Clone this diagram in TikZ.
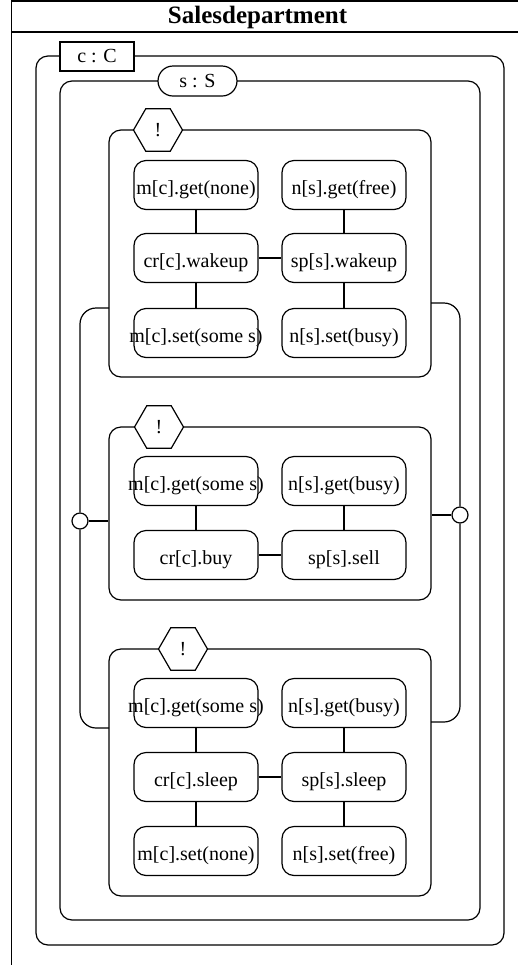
\documentclass[tikz,border=0pt]{standalone}
\usepackage{fontspec}
\setmainfont{Liberation Serif}
\usetikzlibrary{shapes.geometric}

\tikzset{
  act/.style={draw, fill=white, rounded corners=6pt, minimum width=62pt, minimum height=24.5pt, inner sep=0pt, text height=9.3pt, text depth=0pt},
  grp/.style={draw, rounded corners=6pt, minimum width=161pt, inner sep=0pt},
  bang/.style={draw, fill=white, regular polygon, regular polygon sides=6, minimum size=24.5pt, inner sep=0pt},
  port/.style={draw, fill=white, circle, minimum size=8pt, inner sep=0pt},
}
\newcommand{\txt}[1]{\makebox[0pt]{#1}}

\begin{document}
\begin{tikzpicture}[x=0.5pt, y=-0.5pt, line width=0.6pt, font=\fontsize{10}{12}\selectfont]
    \useasboundingbox (0,0) rectangle (518,965);

    % frame
    \draw (518,1) -- (11.5,1) -- (11.5,965);
    \draw (11.5,32) -- (518,32);
    \node[font=\bfseries\fontsize{12.5}{14}\selectfont] (title) at (257.5,17) {Salesdepartment};

    % c : C and s : S
    \draw[rounded corners=6pt] (36,56) rectangle (504,945);
    \node[draw, fill=white, minimum width=37pt, minimum height=14.5pt, inner sep=0pt] (cC) at (97,56.5) {c : C};
    \draw[rounded corners=6pt] (60,81) rectangle (480,920);
    \node[draw, fill=white, rounded corners=7.5pt, minimum width=39.5pt, minimum height=15pt, inner sep=0pt] (sS) at (197.5,81) {s : S};

    % groups
    \node[grp, minimum height=123.5pt] (g1) at (270,253.5) {};
    \node[grp, minimum height=86.5pt] (g2) at (270,513.5) {};
    \node[grp, minimum height=123.5pt] (g3) at (270,772.5) {};
    \node[bang] (h1) at (158,130) {!};
    \node[bang] (h2) at (159,427) {!};
    \node[bang] (h3) at (183,649) {!};

    % wakeup
    \node[act] (mget1) at (196,185) {\txt{m[c].get(none)}};
    \node[act] (cr1) at (196,258) {\txt{cr[c].wakeup}};
    \node[act] (mset1) at (196,333) {\txt{m[c].set(some s)}};
    \node[act] (nget1) at (344,185) {\txt{n[s].get(free)}};
    \node[act] (sp1) at (344,258) {\txt{sp[s].wakeup}};
    \node[act] (nset1) at (344,333) {\txt{n[s].set(busy)}};
    \draw (mget1) -- (cr1) -- (mset1);
    \draw (nget1) -- (sp1) -- (nset1);
    \draw (cr1) -- (sp1);

    % buy / sell
    \node[act] (mget2) at (196,481) {\txt{m[c].get(some s)}};
    \node[act] (cr2) at (196,555) {\txt{cr[c].buy}};
    \node[act] (nget2) at (344,481) {\txt{n[s].get(busy)}};
    \node[act] (sp2) at (344,555) {\txt{sp[s].sell}};
    \draw (mget2) -- (cr2);
    \draw (nget2) -- (sp2);
    \draw (cr2) -- (sp2);

    % sleep
    \node[act] (mget3) at (196,703) {\txt{m[c].get(some s)}};
    \node[act] (cr3) at (196,777) {\txt{cr[c].sleep}};
    \node[act] (mset3) at (196,851) {\txt{m[c].set(none)}};
    \node[act] (nget3) at (344,703) {\txt{n[s].get(busy)}};
    \node[act] (sp3) at (344,777) {\txt{sp[s].sleep}};
    \node[act] (nset3) at (344,851) {\txt{n[s].set(free)}};
    \draw (mget3) -- (cr3) -- (mset3);
    \draw (nget3) -- (sp3) -- (nset3);
    \draw (cr3) -- (sp3);

    % choice
    \coordinate (l1) at (109,308);
    \coordinate (l3) at (109,728);
    \coordinate (r1) at (431,303);
    \coordinate (r3) at (431,722);
    \node[port] (lp) at (80,521) {};
    \node[port] (rp) at (460,515) {};
    \draw[rounded corners=8pt] (l1) -- (80,308) -- (lp.north);
    \draw[rounded corners=8pt] (lp.south) -- (80,728) -- (l3);
    \draw (lp) -- (g2.west |- lp);
    \draw[rounded corners=8pt] (r1) -- (460,303) -- (rp.north);
    \draw[rounded corners=8pt] (rp.south) -- (460,722) -- (r3);
    \draw (rp) -- (g2.east |- rp);
\end{tikzpicture}
\end{document}
